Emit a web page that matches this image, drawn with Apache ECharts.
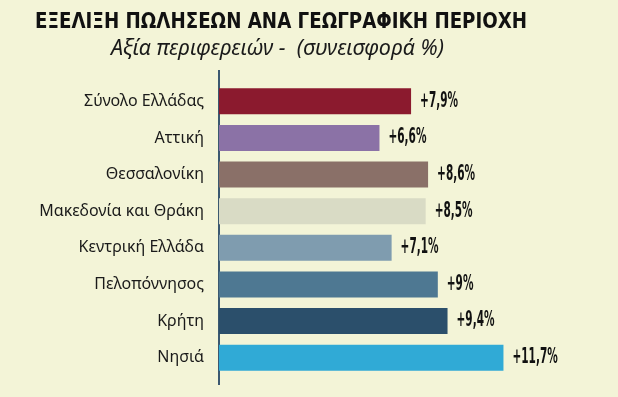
<!DOCTYPE html>
<html>
<head>
    <meta charset="utf-8" />
    <title>ECharts</title>
    <script src="https://cdn.jsdelivr.net/npm/echarts@6.0.0/dist/echarts.min.js"></script>
    <style>
        html, body { margin: 0; padding: 0; background: #f3f4d7; }
    </style>
</head>
<body>
    <div id="main" style="width: 618px;height:397px;"></div>
    <script type="text/javascript">
        // περιφέρειες και μεταβολή πωλήσεων (%)
        var regions = ['Σύνολο Ελλάδας', 'Αττική', 'Θεσσαλονίκη', 'Μακεδονία και Θράκη',
            'Κεντρική Ελλάδα', 'Πελοπόννησος', 'Κρήτη', 'Νησιά'];
        var growth = [7.9, 6.6, 8.6, 8.5, 7.1, 9, 9.4, 11.7];
        var barColors = ['#8b1a2e', '#8b72a6', '#8a7068', '#d9dbc5',
            '#7f9caf', '#4e7892', '#2b4f6b', '#30aad6'];

        var condensed = '"DejaVu Sans Condensed", "DejaVu Sans", sans-serif';

        function fmt(v) {
            return '+' + String(v).replace('.', ',') + '%';
        }

        var myChart = echarts.init(document.getElementById('main'));

        var option = {
            backgroundColor: '#f3f4d7',
            animation: false,
            title: [{
                text: 'ΕΞΕΛΙΞΗ ΠΩΛΗΣΕΩΝ ΑΝΑ ΓΕΩΓΡΑΦΙΚΗ ΠΕΡΙΟΧΗ',
                left: 30,
                top: 8,
                textStyle: {
                    fontFamily: condensed,
                    fontWeight: 'bold',
                    fontSize: 20.3,
                    color: '#111'
                }
            }, {
                text: 'Αξία περιφερειών -  (συνεισφορά %)',
                left: 106,
                top: 33,
                textStyle: {
                    fontFamily: 'Noto Sans',
                    fontStyle: 'italic',
                    fontWeight: 'normal',
                    fontSize: 21.5,
                    color: '#1a1a1a'
                }
            }],
            grid: {
                left: 219,
                right: 10,
                top: 83,
                height: 293
            },
            xAxis: {
                type: 'value',
                min: 0,
                max: 16,
                show: false
            },
            yAxis: {
                type: 'category',
                inverse: true,
                data: regions,
                axisLine: { show: false },
                axisTick: { show: false },
                axisLabel: {
                    margin: 15,
                    fontFamily: 'Noto Sans',
                    fontSize: 16,
                    color: '#1a1a1a'
                }
            },
            series: [{
                type: 'bar',
                barWidth: 26,
                data: growth.map(function (v, i) {
                    return { value: v, itemStyle: { color: barColors[i] } };
                })
            }, {
                // ετικέτες τιμών, στενόμακρες όπως στο πρωτότυπο
                type: 'custom',
                data: growth.map(function (v, i) { return [v, i]; }),
                encode: { x: 0, y: 1 },
                renderItem: function (params, api) {
                    var p = api.coord([api.value(0), api.value(1)]);
                    return {
                        type: 'text',
                        x: p[0] + 9,
                        y: p[1],
                        scaleX: 0.57,
                        style: {
                            text: fmt(api.value(0)),
                            fontFamily: condensed,
                            fontWeight: 'bold',
                            fontSize: 20.5,
                            fill: '#111',
                            align: 'left',
                            verticalAlign: 'middle'
                        }
                    };
                }
            }],
            graphic: [{
                // κάθετη γραμμή άξονα, πιο ψηλή από τις μπάρες
                type: 'line',
                shape: { x1: 219, y1: 70, x2: 219, y2: 385 },
                style: { stroke: '#3b5870', lineWidth: 2 }
            }]
        };

        myChart.setOption(option);
    </script>
</body>
</html>
